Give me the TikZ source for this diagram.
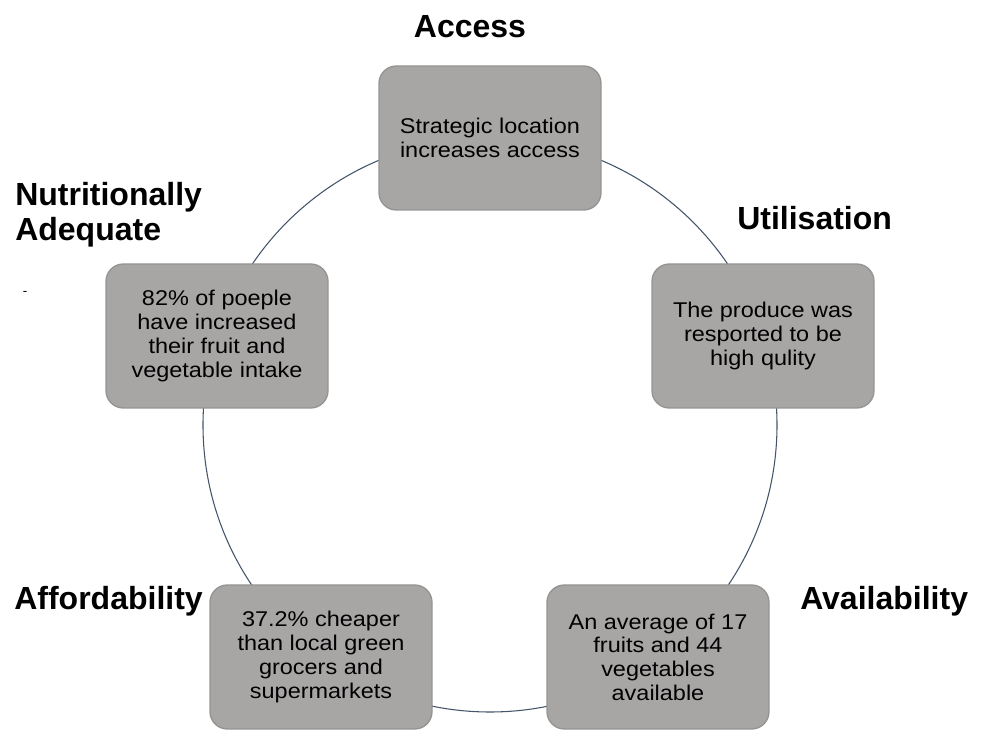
\documentclass[tikz,border=0pt]{standalone}
\usepackage{fontspec}
\setmainfont{Liberation Sans}
\newfontfamily\boxfont[FakeStretch=1.1]{Liberation Sans}
\usepackage{tikz}

\begin{document}
\begin{tikzpicture}[x=0.75pt, y=0.75pt,
  factor/.style={draw={rgb,255:red,150;green,147;blue,147}, fill={rgb,255:red,168;green,165;blue,165},
    line width=1pt, rounded corners=13pt, minimum width=166.5pt, minimum height=108pt,
    inner sep=0pt, align=center, font=\boxfont\fontsize{16}{17.8}\selectfont},
  heading/.style={inner sep=0pt, font=\bfseries\fontsize{24}{26}\selectfont}]
\useasboundingbox (0,0) rectangle (989,732);

% ring behind the five boxes
\coordinate (hub) at (490,307);
\draw[draw={rgb,255:red,68;green,84;blue,106}, line width=0.8pt] (hub) circle (215.25pt);

\node[factor] (access) at (490,594) {Strategic location\\increases access};
\node[factor] (util) at (763,396) {The produce was\\resported to be\\high qulity};
\node[factor] (avail) at (658,75) {An average of 17\\fruits and 44\\vegetables\\available};
\node[factor] (afford) at (321,75) {37.2\% cheaper\\than local green\\grocers and\\supermarkets};
\node[factor] (nutri) at (217,396) {82\% of poeple\\have increased\\their fruit and\\vegetable intake};

% headings
\node[heading, anchor=base] (accessLbl) at (470,694) {Access};
\node[heading, anchor=base west] (utilLbl) at (737,502) {Utilisation};
\node[heading, anchor=north west, align=left] (nutriLbl) at (15,550) {Nutritionally\\Adequate};
\node[heading, anchor=base east] (affordLbl) at (203,122) {Affordability};
\node[heading, anchor=base west] (availLbl) at (800,122) {Availability};
\node[font=\fontsize{10}{11}\selectfont] (dash) at (25,439) {-};
\end{tikzpicture}
\end{document}
